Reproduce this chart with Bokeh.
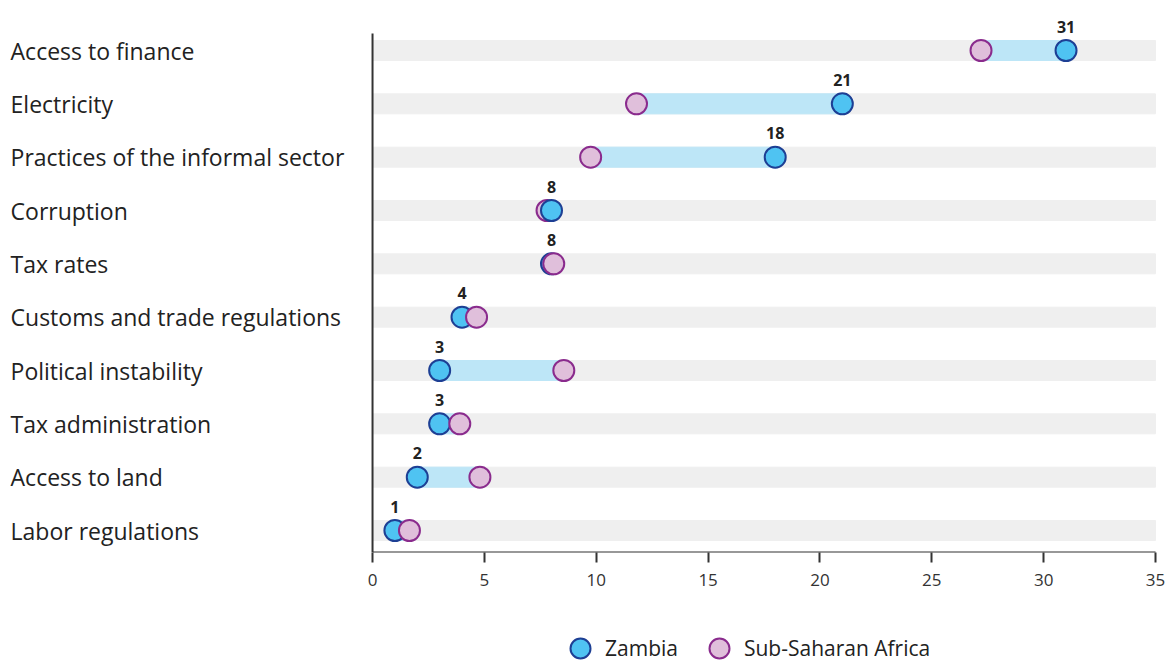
from bokeh.plotting import figure
from bokeh.layouts import column
from bokeh.models import (ColumnDataSource, Range1d, FixedTicker, Legend, LegendItem)
from bokeh.core.properties import value
from bokeh.embed import file_html
from bokeh.resources import INLINE

# Share of firms naming each obstacle as the biggest constraint (%)
categories = [
    "Access to finance",
    "Electricity",
    "Practices of the informal sector",
    "Corruption",
    "Tax rates",
    "Customs and trade regulations",
    "Political instability",
    "Tax administration",
    "Access to land",
    "Labor regulations",
]
zambia = [31, 21, 18, 8, 8, 4, 3, 3, 2, 1]
ssa = [27.2, 11.8, 9.75, 7.8, 8.1, 4.65, 8.55, 3.9, 4.8, 1.65]
x_ticks = [0, 5, 10, 15, 20, 25, 30, 35]
series_names = ["Zambia", "Sub-Saharan Africa"]

FONT = "Open Sans"
ZM_FILL, ZM_LINE = "#4fc3f2", "#1d3f94"
SSA_FILL, SSA_LINE = "#e0bfdb", "#8a2b8d"

rows = list(range(len(categories)))

p = figure(width=1168, height=614, output_backend="svg", toolbar_location=None,
           x_range=Range1d(-16.63, 35.58), y_range=Range1d(9.4125, -0.9375),
           y_axis_location=None, min_border_left=0, min_border_right=0,
           min_border_top=0, min_border_bottom=62)
p.grid.visible = False
p.outline_line_color = None
p.background_fill_color = "white"

# grey background bands, one per category
p.hbar(y=rows, left=0, right=35, height=0.375, color="#efefef")

# connector between the two values
lo = [min(a, b) for a, b in zip(zambia, ssa)]
hi = [max(a, b) for a, b in zip(zambia, ssa)]
p.hbar(y=rows, left=lo, right=hi, height=0.375, color="#bde6f7")

# vertical axis line
p.segment(x0=0, y0=-0.32, x1=0, y1=9.4125, line_color="#333333", line_width=2)

# points: within each row the larger value is drawn on top
pts = {"x": [], "y": [], "fill": [], "line": []}
for i in rows:
    pair = [(zambia[i], ZM_FILL, ZM_LINE), (ssa[i], SSA_FILL, SSA_LINE)]
    pair.sort(key=lambda t: t[0])
    for v, f, l in pair:
        pts["x"].append(v)
        pts["y"].append(i)
        pts["fill"].append(f)
        pts["line"].append(l)
p.scatter(x="x", y="y", source=ColumnDataSource(pts), size=21, fill_color="fill",
          line_color="line", line_width=2)

# value labels above the Zambia points
p.text(x=zambia, y=rows, text=[str(v) for v in zambia], y_offset=-24,
       text_align="center", text_baseline="middle", text_font=value(FONT),
       text_font_size="16px", text_font_style="bold", text_color="#222222")

# category labels at the left edge
p.text(x=-16.18, y=rows, text=categories, text_align="left", text_baseline="middle",
       text_font=value(FONT), text_font_size="23px", text_color="#222222")

# x axis
ax = p.xaxis[0]
ax.ticker = FixedTicker(ticks=x_ticks)
ax.axis_line_color = None
ax.major_tick_line_color = "#333333"
ax.major_tick_line_width = 2
ax.major_tick_out = 10
ax.major_tick_in = 0
ax.minor_tick_line_color = None
ax.major_label_text_font = FONT
ax.major_label_text_font_size = "17px"
ax.major_label_text_color = "#333333"
ax.major_label_standoff = 11
p.segment(x0=0, y0=9.4125, x1=35, y1=9.4125, line_color="#333333", line_width=2)

# legend strip underneath; its renderers carry the series but stay hidden
lg = figure(width=1168, height=50, output_backend="svg", toolbar_location=None,
            x_range=Range1d(0, 35), y_range=Range1d(0, 9),
            x_axis_location=None, y_axis_location=None,
            min_border_left=0, min_border_right=0, min_border_top=0, min_border_bottom=0)
lg.grid.visible = False
lg.outline_line_color = None
r_zm = lg.scatter(x=zambia, y=rows, size=20, fill_color=ZM_FILL, line_color=ZM_LINE,
                  line_width=2, visible=False)
r_ssa = lg.scatter(x=ssa, y=rows, size=20, fill_color=SSA_FILL, line_color=SSA_LINE,
                   line_width=2, visible=False)
legend = Legend(items=[LegendItem(label=series_names[0], renderers=[r_zm]),
                       LegendItem(label=series_names[1], renderers=[r_ssa])],
                orientation="horizontal", location=(555, -9), click_policy="none",
                border_line_color=None, background_fill_alpha=0,
                label_text_font=FONT, label_text_font_size="21px",
                label_text_color="#222222", glyph_width=50, glyph_height=50,
                label_standoff=0, spacing=16, padding=0, margin=0)
lg.add_layout(legend, "center")

open("out.html", "w").write(file_html(column(p, lg, spacing=0), INLINE))
